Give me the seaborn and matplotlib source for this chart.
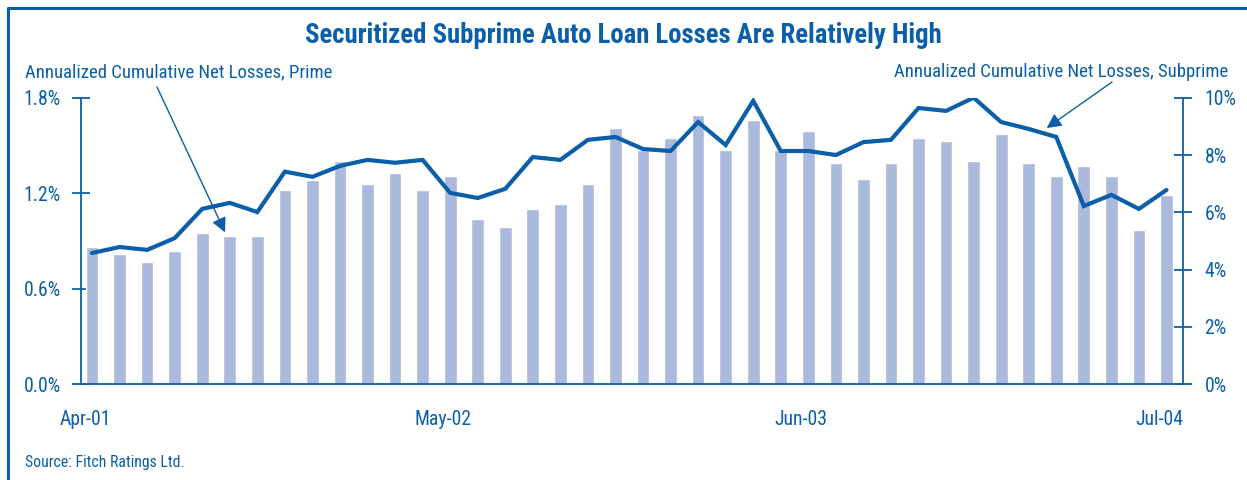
import matplotlib
matplotlib.use("Agg")
import matplotlib.pyplot as plt
import matplotlib.transforms as mtransforms
import seaborn as sns
import numpy as np
import pandas as pd
from matplotlib.lines import Line2D

# ---- data (monthly, Apr-01 .. Jul-04) ----
prime = [0.86, 0.82, 0.77, 0.84, 0.95, 0.93, 0.93, 1.22, 1.28, 1.40,
         1.26, 1.33, 1.22, 1.31, 1.04, 0.99, 1.10, 1.13, 1.26, 1.61,
         1.47, 1.55, 1.69, 1.47, 1.66, 1.47, 1.59, 1.39, 1.29, 1.39,
         1.55, 1.53, 1.40, 1.57, 1.39, 1.31, 1.37, 1.31, 0.97, 1.19]
subprime = [4.58, 4.79, 4.69, 5.10, 6.12, 6.33, 6.01, 7.42, 7.24, 7.62,
            7.83, 7.73, 7.83, 6.68, 6.50, 6.82, 7.93, 7.83, 8.53, 8.63,
            8.21, 8.14, 9.15, 8.35, 9.89, 8.14, 8.14, 8.00, 8.45, 8.53,
            9.64, 9.54, 10.0, 9.15, 8.91, 8.63, 6.22, 6.61, 6.12, 6.78]
tick_labels = ["Apr-01", "May-02", "Jun-03", "Jul-04"]
tick_months = [0, 13, 26, 39]
left_ticks = [0.0, 0.6, 1.2, 1.8]
left_tick_labels = ["0.0%", "0.6%", "1.2%", "1.8%"]
right_ticks = [0, 2, 4, 6, 8, 10]
right_tick_labels = ["0%", "2%", "4%", "6%", "8%", "10%"]
title = "Securitized Subprime Auto Loan Losses Are Relatively High"
prime_label = "Annualized Cumulative Net Losses, Prime"
subprime_label = "Annualized Cumulative Net Losses, Subprime"
source = "Source: Fitch Ratings Ltd."

BLUE = "#0a5fa8"
BAR = "#abbadc"

sns.set_style("white")
plt.rcParams['font.family'] = ['Roboto Condensed', 'DejaVu Sans']

pos = np.arange(len(prime))
df = pd.DataFrame({"pos": pos, "prime": prime, "subprime": subprime})

fig = plt.figure(figsize=(12.47, 4.80), dpi=100)
ax = fig.add_axes([81/1247, 1-384.3/480, (1183-81)/1247, (384.3-97.7)/480])

sns.barplot(data=df, x="pos", y="prime", native_scale=True, width=0.46,
            color=BAR, saturation=1, errorbar=None, ax=ax, zorder=2)
ax.set_xlim(-0.4, 39.6)
ax.set_ylim(0, 1.8)
ax.set_xlabel("")
ax.set_ylabel("")

ax2 = ax.twinx()
sns.lineplot(data=df, x="pos", y="subprime", color=BLUE, lw=3.0, ax=ax2,
             solid_joinstyle="miter")
ax2.set_ylim(0, 10)
ax2.set_xlim(-0.4, 39.6)
ax2.set_xlabel("")
ax2.set_ylabel("")

for a in (ax, ax2):
    for s in a.spines.values():
        s.set_visible(False)
    a.grid(False)
    a.patch.set_visible(False)

ax.spines['left'].set_visible(True)
ax.spines['bottom'].set_visible(True)
ax2.spines['right'].set_visible(True)
for s in (ax.spines['left'], ax.spines['bottom'], ax2.spines['right']):
    s.set_color(BLUE)
    s.set_linewidth(1.3)

ax.set_xticks([m - 0.4 for m in tick_months])
ax.set_xticklabels(tick_labels)
ax.set_yticks(left_ticks)
ax.set_yticklabels(left_tick_labels)
ax2.set_yticks(right_ticks)
ax2.set_yticklabels(right_tick_labels)

ax.tick_params(axis='x', direction='inout', length=13, width=1.3, color=BLUE,
               labelcolor=BLUE, labelsize=14.2, pad=12)
ax.tick_params(axis='y', direction='inout', length=13, width=1.3, color=BLUE,
               labelcolor=BLUE, labelsize=14.2, pad=8, left=True)
ax2.tick_params(axis='y', direction='inout', length=13, width=1.3, color=BLUE,
                labelcolor=BLUE, labelsize=14.2, pad=9, right=True)
ax2.tick_params(axis='x', bottom=False, labelbottom=False)

shift = mtransforms.ScaledTranslation(4/100, 0, fig.dpi_scale_trans)
for lbl in ax.get_xticklabels():
    lbl.set_transform(lbl.get_transform() + shift)

# texts
fig.text(0.4996, 1-43/480, title, ha='center', va='baseline',
         fontsize=19.3, fontweight='heavy', color=BLUE)
fig.text(25/1247, 1-77/480, prime_label, ha='left', va='baseline',
         fontsize=13.5, color=BLUE)
fig.text(1228/1247, 1-77/480, subprime_label, ha='right', va='baseline',
         fontsize=13.5, color=BLUE)
fig.text(25/1247, 1-467/480, source, ha='left', va='baseline',
         fontsize=11.3, color=BLUE)

# arrows
ax.annotate("", xy=(4.83, 0.954), xycoords='data',
            xytext=(157/1247, 1-87/480), textcoords='figure fraction',
            arrowprops=dict(arrowstyle='-|>', lw=1.0, color=BLUE,
                            mutation_scale=22, shrinkA=0, shrinkB=0))
ax2.annotate("", xy=(34.65, 8.94), xycoords='data',
             xytext=(1112/1247, 1-82/480), textcoords='figure fraction',
             arrowprops=dict(arrowstyle='-|>', lw=1.0, color=BLUE,
                             mutation_scale=22, shrinkA=0, shrinkB=0))

# frame (top and left edges)
fig.add_artist(Line2D([7.5/1247, 7.5/1247], [0, 1-7.5/480], transform=fig.transFigure,
                      color=BLUE, lw=2.2))
fig.add_artist(Line2D([7.5/1247, 1], [1-7.5/480, 1-7.5/480], transform=fig.transFigure,
                      color=BLUE, lw=2.2))

fig.savefig("out.png", dpi=100)
